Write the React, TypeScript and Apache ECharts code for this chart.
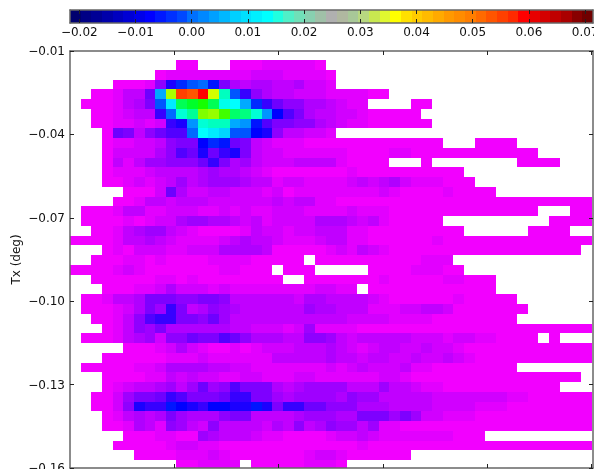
import React, { useEffect, useRef } from "react";
import * as echarts from "echarts";

// Levels: one char per cell, "." = empty. Groups of ten columns. Hue falls with the index in LEVEL_CHARS.
const LEVEL_CHARS = "0123456789abcdefghijklmnopqrstuvwxyzABCDEFGHIJKLMNOPQRSTUVWXY";
const rowLevels: string[] = [
  "",
  ".......... 00...00011 1110",
  "........01 1111111222 11110",
  "....00016b eghd743443 34221",
  "..001338kI VUYKrga643 3222111100",
  ".0001347gn wyBwpokea8 66443211.. ..00",
  "..001233ah qtGHDvuqjc 9743322100 000",
  "..0011212a bjqrrkjd97 7664321100 0000",
  "...0873689 9honmggcb6 33221",
  "...0112236 77ced87321 1100000000 00000...00 00",
  "...0222246 98b8ab7322 1111110000 1100000000 0000",
  "...0313556 668a745322 2333310000 ...0...... ..0000",
  "...0111233 3345443210 0000001000 0000000",
  "...0012123 5345554331 2211112323 42111000",
  ".....00028 4223322212 0111111112 1000010000",
  "....001332 3332222223 2331100000 0000000000 000000000",
  ".000133112 2211212112 2211112111 0000000000 0000...00",
  ".000010122 4554432312 2224443231 00000..... .....0000",
  "..00134553 2100001322 1223331100 0000000... ...0000..",
  "0000133432 1111234332 1112331100 0000100000 000000000",
  "...0102221 1222444430 0000121321 0000000000 00000000",
  "..00011010 0001111000 00.0000000 000111",
  "0000121000 000011000. 000.....00 0011100",
  "..00000011 0100000000 ..00000001 0000011000",
  "...0001124 2221211111 1112211.00 0000000000",
  ".001334777 6677633333 3244333321 0000001000 00",
  ".00012475a 7346543333 3354433311 1223320000 000",
  "..001369aa 7768533333 3333332222 1111000000 00",
  "...0136574 4444433222 1251111000 0000000000 000000000",
  ".000134526 6877986444 3366532333 3322212211 0000.0...",
  ".....00012 4210010122 2333432123 3223221000 000000000",
  "...0000001 1121111113 3333433233 2232232100 000000000",
  ".000001124 4443322111 1111212322 2311000000 00",
  "...0000113 2322112211 1221111112 2100000000 00000000",
  "...0123345 3585697774 3455553335 3321100000 000000",
  "..0025778a 97778aa775 4555546553 3333222222 211000000",
  "..0026baad cbaccbbdb7 aa88666444 3333222211 100000000",
  "...0134347 5444677333 3455544777 5752211100 000000000",
  "...0014316 5326333324 3634655351 1000000000 000000000",
  ".....00011 0054333211 0000122321 111111000.",
  "....000001 2211000000 0000000100 0000000000 000000000",
  "......0000 1112100000 0012210000 00",
  ".......... 001111.000 001110",
];

const colorbarColors: string[] = [
  "#00006e", "#000085", "#000095", "#0000aa", "#0000bf", "#0000d4", "#0000ea",
  "#0000ff", "#0018ff", "#0030ff", "#0048ff", "#0070ff", "#0088ff", "#00a0ff",
  "#00b8ff", "#00d0ff", "#00e0ff", "#00f0ff", "#00ffff", "#20ffe0", "#50f0c8",
  "#70e0b8", "#88d0b0", "#a0c0a8", "#b0b0b0", "#b0b8a0", "#a8c898", "#b8d880",
  "#c8e850", "#e0f830", "#ffff00", "#ffe000", "#ffcc00", "#ffbb00", "#ffaa00",
  "#ff9900", "#ff8c00", "#ff7e00", "#ff6a00", "#ff5500", "#ff4000", "#ff2a00",
  "#ff0000", "#e80000", "#d40000", "#c00000", "#aa0000", "#880000", "#700000",
];

const yTicks = [-0.16, -0.13, -0.1, -0.07, -0.04, -0.01];
const xTicks = [1, 2, 3, 4, 5];
const barTicks = [-0.02, -0.01, 0, 0.01, 0.02, 0.03, 0.04, 0.05, 0.06, 0.07];

const X_MAX = 5.015;
const COL_STEP = 0.1021;
const ROW_TOP = -0.00975;
const ROW_STEP = 0.00351;
const BAR_MIN = -0.02165;
const BAR_MAX = 0.0714;
const BAR_STEP = (BAR_MAX - BAR_MIN) / colorbarColors.length;

const FONT = "DejaVu Sans";
const SPINE = "#666";
const TICK = "#222";
const TEXT = "#111";

function levelColor(index: number): string {
  let hue: number;
  if (index <= 8) hue = 297 - 3.9 * index;
  else if (index <= 12) hue = 265.8 - 6.45 * (index - 8);
  else hue = 300 - 5 * index;
  const h = hue / 60;
  const i = Math.floor(h) % 6;
  const f = h - Math.floor(h);
  const up = Math.round(255 * f);
  const down = 255 - up;
  const rgb = [
    [255, up, 0],
    [down, 255, 0],
    [0, 255, up],
    [0, down, 255],
    [up, 0, 255],
    [255, 0, down],
  ][i];
  return `rgb(${rgb[0]},${rgb[1]},${rgb[2]})`;
}

const heatData: number[][] = [];
rowLevels.forEach((row, r) => {
  row.replace(/ /g, "").split("").forEach((ch, c) => {
    if (ch !== ".") heatData.push([c, r, LEVEL_CHARS.indexOf(ch)]);
  });
});

const rectItem = (x0v: number, x1v: number, y0v: number, y1v: number, fill: string, api: any) => {
  const a = api.coord([x0v, y0v]);
  const b = api.coord([x1v, y1v]);
  const x = Math.round(a[0]);
  const y = Math.round(a[1]);
  return {
    type: "rect",
    shape: { x, y, width: Math.round(b[0]) - x, height: Math.round(b[1]) - y },
    style: { fill, stroke: null },
  };
};

const fmt = (v: number) => Number(v).toFixed(2).replace("-", "\u2212");

export default function App() {
  const ref = useRef<HTMLDivElement>(null);
  useEffect(() => {
    const chart = echarts.init(ref.current!, undefined, { renderer: "svg" });
    const line = { onZero: false, lineStyle: { color: SPINE, width: 1.5 } };
    const tick = (values: number[], color = TICK) => ({
      show: true,
      inside: true,
      length: 4,
      customValues: values,
      lineStyle: { color, width: 1 },
    });
    const label = {
      fontFamily: FONT,
      fontSize: 12,
      color: TEXT,
      formatter: fmt,
    };
    chart.setOption({
      animation: false,
      backgroundColor: "#fff",
      grid: [
        { left: 70, top: 51, width: 523, height: 417, outerBoundsMode: "none" },
        { left: 70, top: 10, width: 523, height: 13, outerBoundsMode: "none" },
      ],
      xAxis: [
        { type: "value", gridIndex: 0, min: 0, max: X_MAX, position: "bottom", z: 10, axisLine: line,
          axisTick: tick(xTicks), axisLabel: { show: false }, splitLine: { show: false } },
        { type: "value", gridIndex: 0, min: 0, max: X_MAX, position: "top", z: 10, axisLine: line,
          axisTick: tick(xTicks), axisLabel: { show: false }, splitLine: { show: false } },
        { type: "value", gridIndex: 1, min: BAR_MIN, max: BAR_MAX, position: "bottom", z: 10, axisLine: line,
          axisTick: tick(barTicks), splitLine: { show: false },
          axisLabel: { ...label, margin: 3, customValues: barTicks } },
        { type: "value", gridIndex: 1, min: BAR_MIN, max: BAR_MAX, position: "top", z: 10, axisLine: line,
          axisTick: tick(barTicks), axisLabel: { show: false }, splitLine: { show: false } },
      ],
      yAxis: [
        { type: "value", gridIndex: 0, min: -0.16, max: -0.01, position: "left", z: 10, axisLine: line,
          axisTick: tick(yTicks), splitLine: { show: false },
          axisLabel: { ...label, margin: 5, customValues: yTicks },
          name: "Tx (deg)", nameLocation: "middle", nameGap: 48, nameRotate: 90, nameMoveOverlap: false,
          nameTextStyle: { fontFamily: FONT, fontSize: 12, color: TEXT } },
        { type: "value", gridIndex: 0, min: -0.16, max: -0.01, position: "right", z: 10, axisLine: line,
          axisTick: tick(yTicks), axisLabel: { show: false }, splitLine: { show: false } },
        { type: "value", gridIndex: 1, min: 0, max: 1, position: "left", z: 10, axisLine: line,
          axisTick: { show: false }, axisLabel: { show: false }, splitLine: { show: false } },
        { type: "value", gridIndex: 1, min: 0, max: 1, position: "right", z: 10, axisLine: line,
          axisTick: { show: false }, axisLabel: { show: false }, splitLine: { show: false } },
      ],
      series: [
        {
          type: "custom",
          xAxisIndex: 0,
          yAxisIndex: 0,
          progressive: 0,
          clip: true,
          data: heatData,
          encode: { x: 0, y: 1 },
          renderItem: (_p: any, api: any) => {
            const c = api.value(0);
            const r = api.value(1);
            return rectItem(
              c * COL_STEP,
              (c + 1) * COL_STEP,
              ROW_TOP - r * ROW_STEP,
              ROW_TOP - (r + 1) * ROW_STEP,
              levelColor(api.value(2)),
              api
            );
          },
        },
        {
          type: "custom",
          xAxisIndex: 2,
          yAxisIndex: 2,
          progressive: 0,
          clip: true,
          data: colorbarColors.map((_, i) => [BAR_MIN + i * BAR_STEP, 0, i]),
          encode: { x: 0, y: 1 },
          renderItem: (_p: any, api: any) => {
            const left = api.value(0);
            return rectItem(left, left + BAR_STEP, 1, 0, colorbarColors[api.value(2)], api);
          },
        },
      ],
    });
    return () => chart.dispose();
  }, []);
  return (
    <div
      ref={ref}
      style={{
        position: "fixed",
        left: 0,
        top: 0,
        width: 594,
        height: 469,
        background: "#fff",
        filter: "blur(0.4px)",
      }}
    />
  );
}
